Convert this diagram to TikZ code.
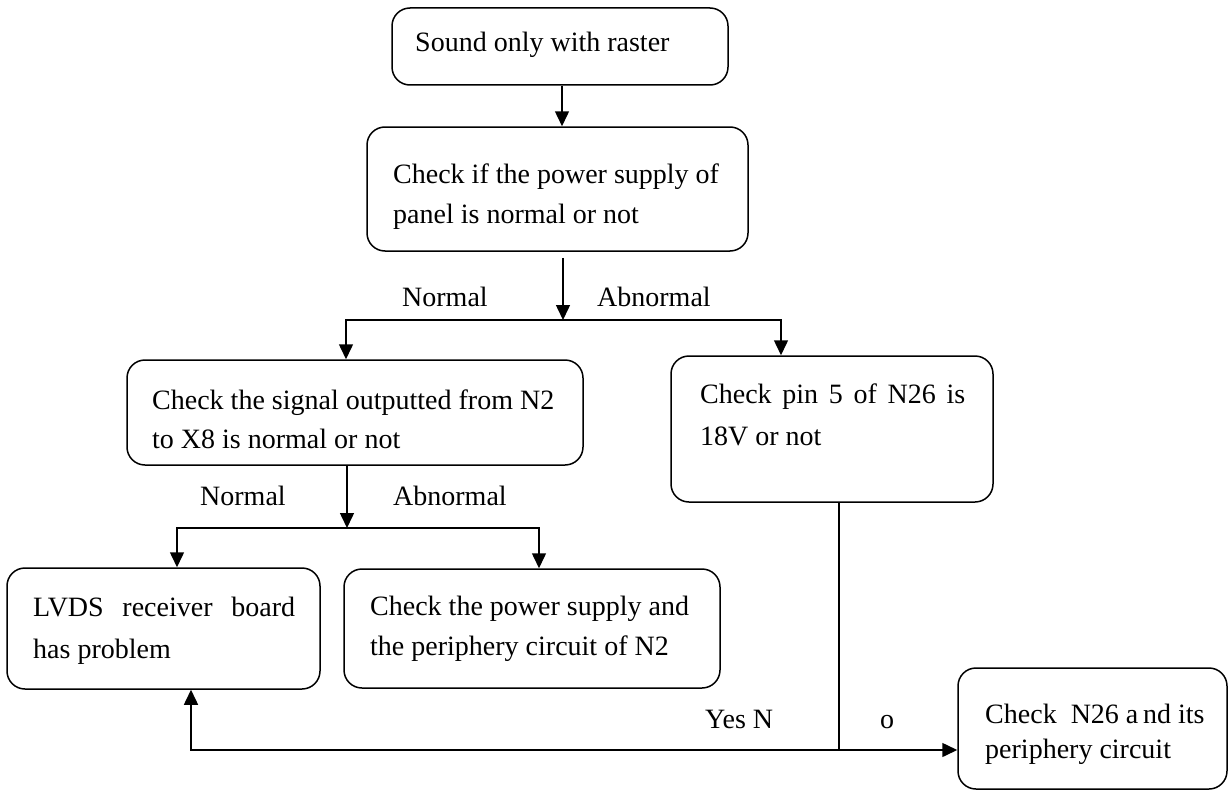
\documentclass[tikz,border=0pt]{standalone}
\usepackage{fontspec}
\setmainfont{Liberation Serif}
\usetikzlibrary{arrows.meta}
\begin{document}
\begin{tikzpicture}[x=1pt,y=-1pt,
  box/.style={draw, line width=1.5pt, rounded corners=18pt, inner sep=0pt},
  txt/.style={anchor=base west, inner sep=0pt, font=\fontsize{28}{40}\selectfont},
  arr/.style={line width=1.5pt, -{Triangle[length=15pt,width=14pt]}},
  ln/.style={line width=1.5pt}]
\useasboundingbox (0,0) rectangle (1229,792);

% boxes
\node[box, minimum width=336pt, minimum height=77pt]  (b1) at (560,46.5)  {};
\node[box, minimum width=381pt, minimum height=124pt] (b2) at (557.5,189) {};
\node[box, minimum width=456pt, minimum height=105pt] (b3) at (355,412.5) {};
\node[box, minimum width=322pt, minimum height=146pt] (b4) at (832,429)   {};
\node[box, minimum width=313pt, minimum height=121pt] (b5) at (163.5,628.5) {};
\node[box, minimum width=376pt, minimum height=119pt] (b6) at (532,628.5) {};
\node[box, minimum width=269pt, minimum height=121pt] (b7) at (1092.5,728.5) {};

% box texts
\node[txt] (t1)  at (415,52)  {Sound only with raster};
\node[txt] (t2a) at (393,183) {Check if the power supply of};
\node[txt] (t2b) at (393,223) {panel is normal or not};
\node[txt] (t3a) at (152,409) {Check the signal outputted from N2};
\node[txt] (t3b) at (152,448) {to X8 is normal or not};
\node[txt] (t4a) at (700,403) {\makebox[265pt][s]{Check pin 5 of N26 is}};
\node[txt] (t4b) at (700,445) {18V or not};
\node[txt] (t5a) at (33,616)  {\makebox[262pt][s]{LVDS receiver board}};
\node[txt] (t5b) at (33,658)  {has problem};
\node[txt] (t6a) at (370,615) {Check the power supply and};
\node[txt] (t6b) at (370,655) {the periphery circuit of N2};
\node[txt] (t7a) at (985,723) {Check\ \ N26 a\,nd its};
\node[txt] (t7b) at (985,758) {periphery circuit};

% branch labels
\node[txt] (l1) at (402,306) {Normal};
\node[txt] (l2) at (597,306) {Abnormal};
\node[txt] (l3) at (200,505) {Normal};
\node[txt] (l4) at (393,505) {Abnormal};
\node[txt] (l5) at (705,728) {Yes N};
\node[txt] (l6) at (880,728) {o};

% junctions
\coordinate (s1) at (563,320);
\coordinate (s2) at (347,528);
\coordinate (j3) at (839,750);

% connectors
\draw[arr] ([xshift=2]b1.south) -- ([xshift=2]b1.south |- b2.north);
\draw[arr, shorten <=6pt] (b2.south -| s1) -- (s1);
\draw[arr] (s1) -| ([xshift=-9]b3.north);
\draw[arr] (s1) -| ([xshift=-51]b4.north);
\draw[arr] (b3.south -| s2) -- (s2);
\draw[arr] (s2) -| ([xshift=13.5]b5.north);
\draw[arr] (s2) -| ([xshift=7]b6.north);
\draw[ln] ([xshift=7]b4.south) -- (j3);
\draw[arr] (j3) -- (j3 -| b7.west);
\draw[arr] (j3) -| ([xshift=27.5]b5.south);
\end{tikzpicture}
\end{document}
